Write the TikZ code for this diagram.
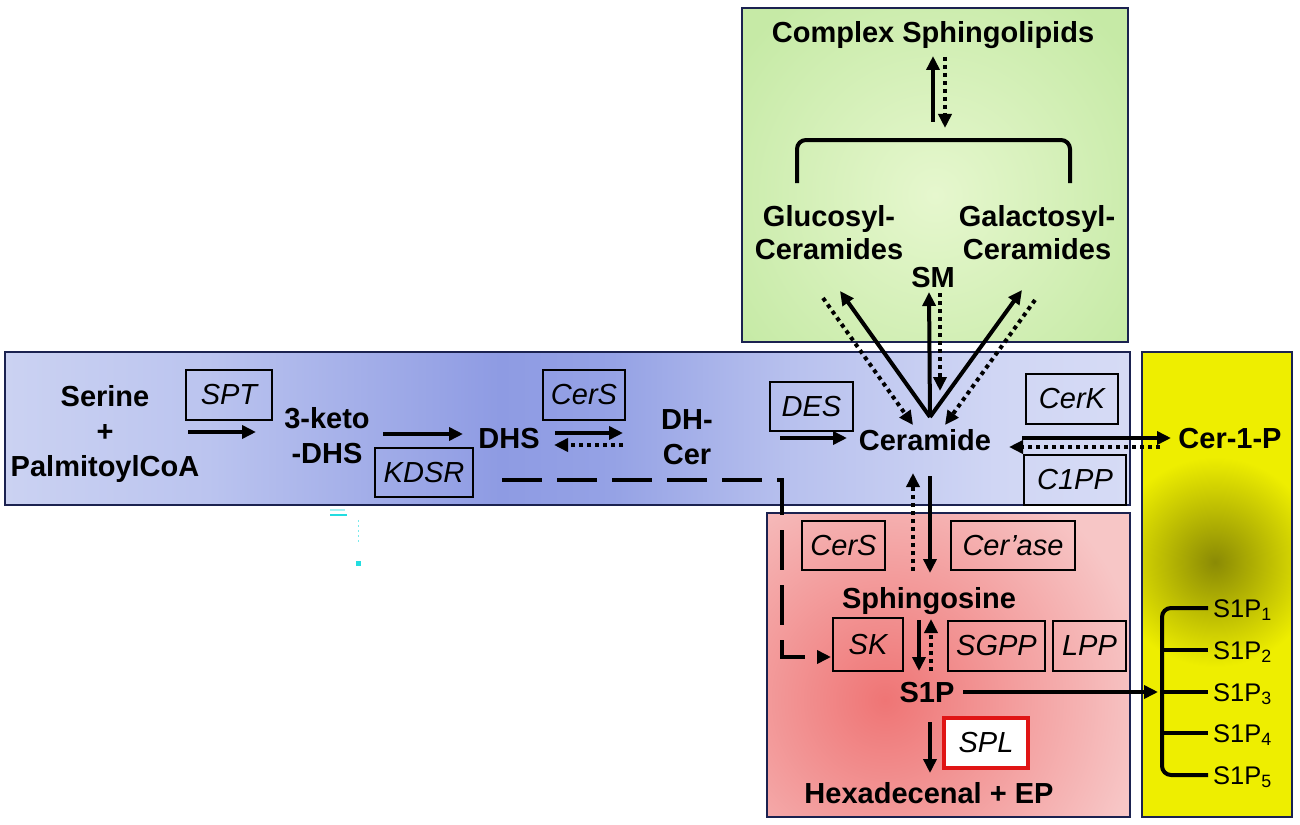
\documentclass[tikz,border=0pt]{standalone}
\usepackage{fontspec}
\setmainfont{Liberation Sans}
\usetikzlibrary{arrows.meta}
\definecolor{panelborder}{HTML}{1B2250}
\definecolor{bA}{HTML}{CBD2F2}
\definecolor{bB}{HTML}{BBC4EF}
\definecolor{bC}{HTML}{8E9BE3}
\definecolor{bD}{HTML}{95A2E5}
\definecolor{bE}{HTML}{B8C1EE}
\definecolor{bF}{HTML}{D0D6F4}
\definecolor{bG}{HTML}{D6DBF5}
\definecolor{greenout}{HTML}{C6EAA6}
\definecolor{greenin}{HTML}{E6F7CE}
\definecolor{pinkout}{HTML}{F7C6C6}
\definecolor{pinkin}{HTML}{EF7575}
\definecolor{yelout}{HTML}{EEEE00}
\definecolor{yelin}{HTML}{8A8A05}
\definecolor{splred}{HTML}{E01515}
\definecolor{cyanmark}{HTML}{22DDE0}
\pgfdeclarehorizontalshading{bandsh}{100bp}{color(0bp)=(bA); color(25bp)=(bA); color(34bp)=(bB); color(47bp)=(bC); color(52bp)=(bD); color(60bp)=(bE); color(69bp)=(bF); color(75bp)=(bG); color(100bp)=(bG)}
\tikzset{
  lbl/.style={font=\fontsize{29}{35}\selectfont\bfseries, align=center, inner sep=0pt, text=black},
  enz/.style={draw=black, line width=2.8pt, font=\fontsize{29}{35}\selectfont\itshape, inner sep=0pt},
  rec/.style={font=\fontsize{25.5}{30}\selectfont, inner sep=0pt, anchor=base west},
  arr/.style={line width=4pt, -{Triangle[length=14pt,width=13pt]}},
  dotarr/.style={line width=4pt, dash pattern=on 4pt off 4pt, -{Triangle[length=14pt,width=13pt]}},
  panel/.style={draw=panelborder, line width=2pt}
}
\begin{document}
\begin{tikzpicture}[x=1pt,y=-1pt]
\useasboundingbox[fill=white] (0,0) rectangle (1300,824);
% ---------- panels ----------
\shade[shading=bandsh] (5,352) rectangle (1130,505);
\draw[panel] (5,352) rectangle (1130,505);
\fill[greenout] (742,8) rectangle (1128,342);
\begin{scope}
  \clip (742,8) rectangle (1128,342);
  \shade[inner color=greenin, outer color=greenout] (935,195) circle (240pt);
\end{scope}
\draw[panel] (742,8) rectangle (1128,342);
\fill[pinkout] (767,513) rectangle (1130,817);
\begin{scope}
  \clip (767,513) rectangle (1130,817);
  \shade[inner color=pinkin, outer color=pinkout] (885,700) circle (260pt);
\end{scope}
\draw[panel] (767,513) rectangle (1130,817);
\fill[yelout] (1142,352) rectangle (1292,817);
\begin{scope}
  \clip (1142,352) rectangle (1292,817);
  \shade[inner color=yelin, outer color=yelout] (1215,562) circle (105pt);
\end{scope}
\draw[panel] (1142,352) rectangle (1292,817);
% small cyan marks
\draw[cyanmark, line width=2.5pt] (330,515) -- (347,515);
\draw[cyanmark!40, line width=1.5pt] (330,510) -- (345,510);
\draw[cyanmark!60, line width=1pt, dash pattern=on 2pt off 3pt] (358,520) -- (358,542);
\fill[cyanmark] (355.5,561) rectangle (361,566);
% ---------- metabolite labels ----------
\node[lbl] (serine) at (105,434) {Serine\\+\\PalmitoylCoA};
\node[lbl] (keto) at (327,436) {3-keto\\-DHS};
\node[lbl, anchor=base] (dhs) at (509,448.5) {DHS};
\node[lbl] (dhcer) at (687,437) {DH-\\Cer};
\node[lbl, anchor=base] (ceramide) at (925,450.5) {Ceramide};
\node[lbl, anchor=base] (cer1p) at (1230,448.5) {Cer-1-P};
\node[lbl, anchor=base] (complex) at (933,42.5) {Complex Sphingolipids};
\node[lbl, font=\fontsize{29}{33}\selectfont\bfseries] (gluc) at (829,233) {Glucosyl-\\Ceramides};
\node[lbl, font=\fontsize{29}{33}\selectfont\bfseries] (galac) at (1037,233) {Galactosyl-\\Ceramides};
\node[lbl, anchor=base] (sm) at (933,287.5) {SM};
\node[lbl, anchor=base] (sphingosine) at (929,608.5) {Sphingosine};
\node[lbl, anchor=base] (s1p) at (927,702.5) {S1P};
\node[lbl, anchor=base] (hexa) at (929,803.5) {Hexadecenal + EP};
% ---------- enzyme boxes ----------
\node[enz, minimum width=86pt, minimum height=50pt] (spt) at (229,395) {SPT};
\node[enz, minimum width=98pt, minimum height=49pt] (kdsr) at (424,472.5) {KDSR};
\node[enz, minimum width=82pt, minimum height=50pt] (cersA) at (584,395) {CerS};
\node[enz, minimum width=83pt, minimum height=49pt] (des) at (811.5,406.5) {DES};
\node[enz, minimum width=92pt, minimum height=50pt] (cerk) at (1072,399) {CerK};
\node[enz, minimum width=102pt, minimum height=50pt] (c1pp) at (1075,480) {C1PP};
\node[enz, minimum width=83pt, minimum height=49pt] (cersB) at (843.5,545.5) {CerS};
\node[enz, minimum width=124pt, minimum height=49pt] (cerase) at (1013,545.5) {Cer’ase};
\node[enz, minimum width=70pt, minimum height=53pt] (sk) at (868,644.5) {SK};
\node[enz, minimum width=97pt, minimum height=50pt] (sgpp) at (996.5,646) {SGPP};
\node[enz, minimum width=73pt, minimum height=50pt] (lpp) at (1089.5,646) {LPP};
\node[enz, draw=splred, line width=3.2pt, fill=white, minimum width=84pt, minimum height=50pt] (spl) at (986,743) {SPL};
% ---------- connector coordinates ----------
\coordinate (a1s) at (188,432); \coordinate (a1e) at (256,432);
\coordinate (a2s) at (383,434); \coordinate (a2e) at (463,434);
\coordinate (a3s) at (555,433); \coordinate (a3e) at (623,433);
\coordinate (a4s) at (623,445); \coordinate (a4e) at (554,445);
\coordinate (a5s) at (780,438); \coordinate (a5e) at (847,438);
\coordinate (apex) at (930,417);
\coordinate (vgl) at (840,291); \coordinate (vsm) at (929,292); \coordinate (vga) at (1022,290);
\coordinate (dgls) at (823,298); \coordinate (dgle) at (913,425);
\coordinate (dsms) at (940,293); \coordinate (dsme) at (940,391);
\coordinate (dgas) at (1035,300); \coordinate (dgae) at (945,425);
\coordinate (cus) at (933,122); \coordinate (cue) at (933,56);
\coordinate (cds) at (945,57); \coordinate (cde) at (945,128);
\coordinate (c1s) at (1022,438); \coordinate (c1e) at (1171,438);
\coordinate (c2s) at (1160,447); \coordinate (c2e) at (1009,447);
\coordinate (sds) at (930,476); \coordinate (sde) at (930,573);
\coordinate (sus) at (913,571); \coordinate (sue) at (913,473);
\coordinate (kds) at (919,620); \coordinate (kde) at (919,671);
\coordinate (kus) at (931,671); \coordinate (kue) at (931,619);
\coordinate (rs) at (963,692); \coordinate (re) at (1158,692);
\coordinate (ls) at (930,722); \coordinate (le) at (930,773);
\coordinate (dash0) at (502,480); \coordinate (dash1) at (782,480);
\coordinate (dash2) at (782,657); \coordinate (dash3) at (831,657);
% ---------- connectors ----------
\draw[arr] (a1s) -- (a1e);
\draw[arr] (a2s) -- (a2e);
\draw[arr] (a3s) -- (a3e);
\draw[dotarr] (a4s) -- (a4e);
\draw[arr] (a5s) -- (a5e);
\draw[arr] (apex) -- (vgl);
\draw[arr] (apex) -- (vsm);
\draw[arr] (apex) -- (vga);
\draw[dotarr] (dgls) -- (dgle);
\draw[dotarr] (dsms) -- (dsme);
\draw[dotarr] (dgas) -- (dgae);
\draw[arr] (cus) -- (cue);
\draw[dotarr] (cds) -- (cde);
\draw[line width=4pt, rounded corners=9pt] (797,183) -- (797,140) -- (1070,140) -- (1070,183);
\draw[arr] (c1s) -- (c1e);
\draw[dotarr] (c2s) -- (c2e);
\draw[arr] (sds) -- (sde);
\draw[dotarr] (sus) -- (sue);
\draw[arr] (kds) -- (kde);
\draw[dotarr] (kus) -- (kue);
\draw[arr] (rs) -- (re);
\draw[arr] (ls) -- (le);
\draw[line width=4.5pt, dash pattern=on 40pt off 15pt, -{Triangle[length=14pt,width=13pt]}] (dash0) -- (dash1) -- (dash2) -- (dash3);
% ---------- receptor bracket ----------
\draw[line width=4pt, rounded corners=9pt] (1208,608) -- (1162,608) -- (1162,775) -- (1208,775);
\draw[line width=4pt] (1162,650) -- (1208,650);
\draw[line width=4pt] (1162,692) -- (1208,692);
\draw[line width=4pt] (1162,733) -- (1208,733);
\node[rec] (r1) at (1213,617) {S1P\textsubscript{1}};
\node[rec] (r2) at (1213,659) {S1P\textsubscript{2}};
\node[rec] (r3) at (1213,701) {S1P\textsubscript{3}};
\node[rec] (r4) at (1213,742) {S1P\textsubscript{4}};
\node[rec] (r5) at (1213,784) {S1P\textsubscript{5}};
\end{tikzpicture}
\end{document}
